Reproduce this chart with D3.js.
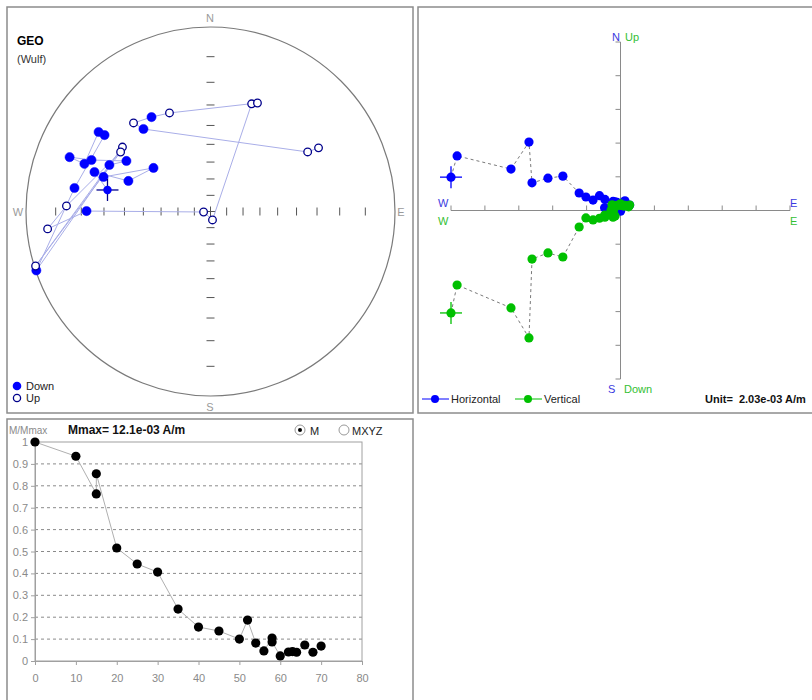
<!DOCTYPE html>
<html><head><meta charset="utf-8">
<script src="https://cdn.jsdelivr.net/npm/d3@7"></script>
<style>
body{margin:0;background:#fff;}
svg{display:block;font-family:"Liberation Sans",Arial,sans-serif;}
</style></head><body>
<svg id="chart" width="812" height="700"></svg>
<script>
// ---------- data ----------
// Demagnetisation steps: declination / inclination (geographic), first entry = NRM
const stepDec = [281.8,288.8,290.4,307.4,287.9,294.7,301.0,293.4,291.1,290.7,
                 305.4,305.8,279.8,251.3,306.2,252.7,303.5,272.2,263.9,270.2,
                 265.9,166.8,20.9,23.4,337.4,328.0,319.0,320.9,58.5,59.5];
const stepInc = [30.6,22.8,39.2,47.5,27.3,27.8,34.0,19.8,11.4,17.7,
                 16.7,19.4,16.4,0.2,-28.8,-0.4,-29.4,-14.0,-6.8,22.2,
                 -85.7,-84.6,-26.0,-24.7,-29.9,27.8,-25.1,30.1,-26.6,-21.6];
// Orthogonal components of the same steps, in units of 2.03e-03 A/m
const compE  = [-5.00,-4.82,-3.23,-2.70,-2.61,-2.14,-1.70,-1.22,-1.02,-0.81,
                -0.62,-0.46,-0.47,-0.28,-0.25,-0.24,-0.22,-0.24,-0.20,-0.28,
                -0.01,0.00,0.10,0.13,-0.10,-0.16,-0.18,-0.22,0.27,0.24];
const compN  = [0.99,1.62,1.23,2.03,0.82,0.96,1.02,0.52,0.40,0.31,
                0.44,0.33,0.08,-0.10,0.18,-0.07,0.14,0.01,-0.02,0.00,
                0.00,-0.02,0.25,0.29,0.24,0.26,0.20,0.27,0.16,0.14];
const compUp = [-3.04,-2.21,-2.89,-3.78,-1.44,-1.26,-1.38,-0.49,-0.22,-0.28,
                -0.23,-0.20,-0.14,0.00,0.17,0.00,0.15,0.06,0.02,-0.11,
                0.15,0.20,0.13,0.15,0.15,-0.16,0.13,-0.20,0.16,0.11];
// Intensity decay curve
const demagStep  = [0,10,15,15,20,25,30,35,40,45,50,52,54,56,58,58,60,62,63,64,66,68,70];
const demagRatio = [1,0.935,0.763,0.855,0.516,0.443,0.406,0.237,0.155,0.137,0.100,0.187,
                    0.082,0.046,0.105,0.087,0.023,0.041,0.043,0.040,0.073,0.040,0.068];
const demagXTicks = [0,10,20,30,40,50,60,70,80];
const demagYTicks = [0,0.1,0.2,0.3,0.4,0.5,0.6,0.7,0.8,0.9,1];
const wulffRings = [10,20,30,40,50,60,70,80];
const zijTicks = [-5,-4,-3,-2,-1,1,2,3,4,5];

const svg = d3.select("#chart");
const BLUE = "#0000ff", GREEN = "#00c000";

// panel frames
svg.append("rect").attr("x",7).attr("y",7).attr("width",406).attr("height",406)
  .attr("fill","#fff").attr("stroke","#8c8c8c").attr("stroke-width",1.5);
svg.append("rect").attr("x",418).attr("y",7).attr("width",410).attr("height",406)
  .attr("fill","#fff").attr("stroke","#8c8c8c").attr("stroke-width",1.5);
svg.append("rect").attr("x",7).attr("y",419).attr("width",406).attr("height",300)
  .attr("fill","#fff").attr("stroke","#8c8c8c").attr("stroke-width",1.5);

// ---------- Wulff (stereographic) net ----------
const R = 184.5, cx = 210.5, cy = 211.5;
const wulff = d3.geoStereographic().scale(R).translate([cx, cy]).rotate([0, -90]);
const proj = (dec, inc) => wulff([180 - dec, Math.abs(inc)]);

const g1 = svg.append("g");
g1.append("circle").attr("cx",cx).attr("cy",cy).attr("r",R)
  .attr("fill","none").attr("stroke","#7a7a7a").attr("stroke-width",1.2);

// inclination ticks along the four axes
wulffRings.forEach(inc => {
  [0,90,180,270].forEach(dec => {
    const [x,y] = proj(dec, inc);
    const vertical = (dec === 90 || dec === 270);
    g1.append("line")
      .attr("x1", vertical ? x : x-4).attr("x2", vertical ? x : x+4)
      .attr("y1", vertical ? y-4 : y).attr("y2", vertical ? y+4 : y)
      .attr("stroke","#555").attr("stroke-width",1);
  });
});
g1.append("line").attr("x1",cx-5).attr("x2",cx+5).attr("y1",cy).attr("y2",cy).attr("stroke","#555");
g1.append("line").attr("x1",cx).attr("x2",cx).attr("y1",cy-5).attr("y2",cy+5).attr("stroke","#555");

const compass = [["N",210,19],["S",210,408],["W",18,213],["E",401,213]];
compass.forEach(([t,x,y]) => g1.append("text").attr("x",x).attr("y",y).text(t)
  .attr("text-anchor","middle").attr("dominant-baseline","middle")
  .attr("font-size",11).attr("fill","#9a9a9a"));

g1.append("text").attr("x",17).attr("y",45).text("GEO").attr("font-weight","bold")
  .attr("font-size",12).attr("fill","#000");
g1.append("text").attr("x",17).attr("y",63).text("(Wulf)").attr("font-size",11).attr("fill","#333");

const stereo = stepDec.map((d,i) => { const p = proj(d, stepInc[i]); return {x:p[0], y:p[1], down: stepInc[i] >= 0, i}; });
g1.append("path").datum(stereo)
  .attr("d", d3.line().x(d=>d.x).y(d=>d.y))
  .attr("fill","none").attr("stroke","#a9aee8").attr("stroke-width",1);
g1.selectAll("circle.pt").data(stereo.slice(1)).join("circle").attr("class","pt")
  .attr("cx",d=>d.x).attr("cy",d=>d.y).attr("r",d=>d.down?4.6:3.8)
  .attr("fill",d=>d.down?BLUE:"#fff")
  .attr("stroke",d=>d.down?BLUE:"#00008b").attr("stroke-width",d=>d.down?0.5:1.3);
// first step marked by a cross
{
  const s = stereo[0];
  g1.append("line").attr("x1",s.x-11).attr("x2",s.x+11).attr("y1",s.y).attr("y2",s.y).attr("stroke","#00008b").attr("stroke-width",1.3);
  g1.append("line").attr("x1",s.x).attr("x2",s.x).attr("y1",s.y-11).attr("y2",s.y+11).attr("stroke","#00008b").attr("stroke-width",1.3);
  g1.append("circle").attr("cx",s.x).attr("cy",s.y).attr("r",4.2).attr("fill",BLUE);
}
// legend
g1.append("circle").attr("cx",17).attr("cy",386).attr("r",4.3).attr("fill",BLUE);
g1.append("text").attr("x",26).attr("y",390).text("Down").attr("font-size",11).attr("fill","#222");
g1.append("circle").attr("cx",17).attr("cy",398).attr("r",3.6).attr("fill","#fff").attr("stroke","#00008b").attr("stroke-width",1.3);
g1.append("text").attr("x",26).attr("y",402).text("Up").attr("font-size",11).attr("fill","#222");

// ---------- Zijderveld diagram ----------
const g2 = svg.append("g");
const zx = d3.scaleLinear().domain([-5,5]).range([451,790]);
const zy = d3.scaleLinear().domain([-5,5]).range([379,42]);
g2.append("line").attr("x1",zx(-5)).attr("x2",zx(5)).attr("y1",zy(0)).attr("y2",zy(0)).attr("stroke","#8a8a8a");
g2.append("line").attr("x1",zx(0)).attr("x2",zx(0)).attr("y1",zy(5)).attr("y2",zy(-5)).attr("stroke","#8a8a8a");
zijTicks.forEach(t => {
  g2.append("line").attr("x1",zx(t)).attr("x2",zx(t)).attr("y1",zy(0)-5).attr("y2",zy(0)).attr("stroke","#8a8a8a");
  g2.append("line").attr("x1",zx(0)-5).attr("x2",zx(0)).attr("y1",zy(t)).attr("y2",zy(t)).attr("stroke","#8a8a8a");
});
const LBLUE = "#3a3ae0", LGREEN = "#33c033";
const zlab = [["N",612,38,LBLUE],["Up",625,38,LGREEN],["W",438,204,LBLUE],["W",438,222,LGREEN],
              ["E",790,204,LBLUE],["E",790,222,LGREEN],["S",608,390,LBLUE],["Down",624,390,LGREEN]];
zlab.forEach(([t,x,y,c]) => g2.append("text").attr("x",x).attr("y",y).text(t)
  .attr("font-size",11).attr("fill",c).attr("dominant-baseline","middle"));

const horiz = compE.map((e,i) => ({x: zx(e), y: zy(compN[i])}));
const vert  = compE.map((e,i) => ({x: zx(e), y: zy(compUp[i])}));
const zline = d3.line().x(d=>d.x).y(d=>d.y);
[horiz, vert].forEach(pts => g2.append("path").datum(pts).attr("d",zline)
  .attr("fill","none").attr("stroke","#7a7a7a").attr("stroke-width",1).attr("stroke-dasharray","3,3"));
[[horiz,BLUE],[vert,GREEN]].forEach(([pts,c]) => {
  const p0 = pts[0];
  g2.append("line").attr("x1",p0.x-11).attr("x2",p0.x+11).attr("y1",p0.y).attr("y2",p0.y).attr("stroke",c).attr("stroke-width",1.3);
  g2.append("line").attr("x1",p0.x).attr("x2",p0.x).attr("y1",p0.y-11).attr("y2",p0.y+11).attr("stroke",c).attr("stroke-width",1.3);
  g2.append("g").selectAll("circle").data(pts).join("circle")
    .attr("cx",d=>d.x).attr("cy",d=>d.y).attr("r",4.6).attr("fill",c);
});
// legend
[[422,BLUE,"Horizontal"],[515,GREEN,"Vertical"]].forEach(([x,c,t]) => {
  g2.append("line").attr("x1",x).attr("x2",x+27).attr("y1",399).attr("y2",399).attr("stroke",c).attr("stroke-width",1);
  g2.append("circle").attr("cx",x+13).attr("cy",399).attr("r",4).attr("fill",c);
  g2.append("text").attr("x",x+29).attr("y",403).text(t).attr("font-size",11).attr("fill","#222");
});
g2.append("text").attr("x",705).attr("y",403).text("Unit=  2.03e-03 A/m")
  .attr("font-size",11).attr("font-weight","bold").attr("fill","#111").attr("xml:space","preserve");

// ---------- intensity decay ----------
const g3 = svg.append("g");
const mx = d3.scaleLinear().domain([0,80]).range([35,362]);
const my = d3.scaleLinear().domain([0,1]).range([661,442]);
g3.append("text").attr("x",9).attr("y",434).text("M/Mmax").attr("font-size",10).attr("fill","#8a8a8a");
g3.append("text").attr("x",68).attr("y",434).text("Mmax= 12.1e-03 A/m").attr("font-size",12)
  .attr("font-weight","bold").attr("fill","#111");
// radio buttons
g3.append("circle").attr("cx",300).attr("cy",430).attr("r",5).attr("fill","#fff").attr("stroke","#999");
g3.append("circle").attr("cx",300).attr("cy",430).attr("r",2).attr("fill","#000");
g3.append("text").attr("x",310).attr("y",434.5).text("M").attr("font-size",11).attr("fill","#222");
g3.append("circle").attr("cx",344).attr("cy",430).attr("r",5).attr("fill","#fff").attr("stroke","#999");
g3.append("text").attr("x",352).attr("y",434.5).text("MXYZ").attr("font-size",11).attr("fill","#222");

// grid
g3.selectAll("line.grid").data(demagYTicks.filter(t => t > 0 && t < 1)).join("line").attr("class","grid")
  .attr("x1",mx(0)).attr("x2",mx(80)).attr("y1",d=>my(d)).attr("y2",d=>my(d))
  .attr("stroke","#8a8a8a").attr("stroke-dasharray","3,3");
g3.append("rect").attr("x",mx(0)).attr("y",my(1)).attr("width",mx(80)-mx(0)).attr("height",my(0)-my(1))
  .attr("fill","none").attr("stroke","#a0a0a0");

const yAxis = g3.append("g").attr("transform",`translate(${mx(0)},0)`)
  .call(d3.axisLeft(my).tickValues(demagYTicks).tickSize(4).tickPadding(3)
    .tickFormat(d => d === 0 ? "0" : d === 1 ? "1" : d.toFixed(1)));
const xAxis = g3.append("g").attr("transform",`translate(0,${my(0)})`)
  .call(d3.axisBottom(mx).tickValues(demagXTicks).tickSize(4).tickPadding(9));
[yAxis, xAxis].forEach(a => {
  a.select(".domain").attr("stroke","#a0a0a0");
  a.selectAll(".tick line").attr("stroke","#a0a0a0");
  a.selectAll(".tick text").attr("fill","#8a8a8a").attr("font-size",11)
    .attr("font-family","'Liberation Sans',Arial,sans-serif");
});

const demagPts = demagStep.map((s,i) => ({x: mx(s), y: my(demagRatio[i])}));
g3.append("path").datum(demagPts).attr("d", d3.line().x(d=>d.x).y(d=>d.y))
  .attr("fill","none").attr("stroke","#b0b0b0").attr("stroke-width",1);
g3.selectAll("circle.m").data(demagPts).join("circle").attr("class","m")
  .attr("cx",d=>d.x).attr("cy",d=>d.y).attr("r",4.6).attr("fill","#000");
</script>
</body></html>
